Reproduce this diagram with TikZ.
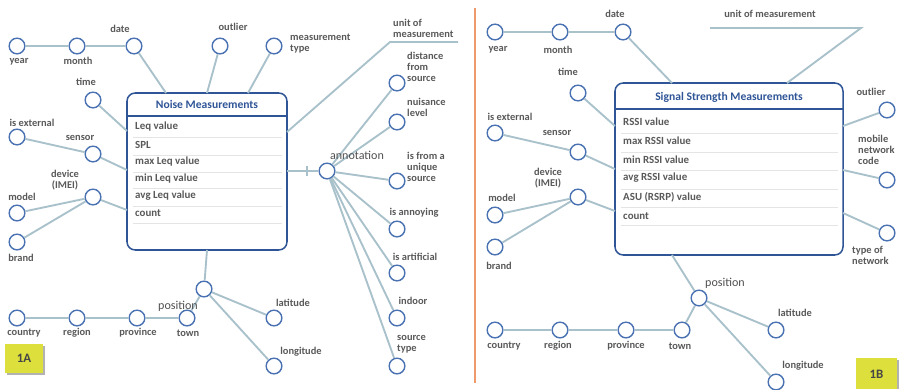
\documentclass[tikz,border=0pt]{standalone}
\usepackage{fontspec}
\setmainfont{Carlito}
\definecolor{entblue}{HTML}{4A72B2}
\definecolor{boxblue}{HTML}{2F5597}
\definecolor{lnkgray}{HTML}{A9C1CB}
\definecolor{txtgray}{HTML}{595959}
\definecolor{sepgray}{HTML}{E4E4E4}
\definecolor{tagyellow}{HTML}{DCDF3C}
\definecolor{splitorange}{HTML}{EE9A6A}
\tikzset{
  ent/.style={circle, draw=entblue, line width=1.2pt, fill=white, minimum size=0.47cm, inner sep=0pt},
  lnk/.style={draw=lnkgray, line width=1.6pt},
  lbl/.style={text=txtgray, font=\fontsize{8.9}{9.4}\selectfont\bfseries, inner sep=0pt, align=left},
  rowtxt/.style={text=txtgray, font=\fontsize{9.3}{10}\selectfont\bfseries, anchor=west, inner sep=0pt},
  ttl/.style={text=boxblue, font=\fontsize{9.9}{11}\selectfont\bfseries, inner sep=0pt},
  hub/.style={text=txtgray!90!black, font=\fontsize{10.3}{11}\selectfont, inner sep=0pt},
  mbox/.style={draw=boxblue, line width=1.3pt, fill=white, rounded corners=7pt},
  tagtxt/.style={text=txtgray!80!black, font=\fontsize{11}{12}\selectfont\bfseries, inner sep=0pt}
}
\begin{document}
\begin{tikzpicture}[x=0.03cm, y=-0.03cm]
\useasboundingbox (0,0) rectangle (902,389);

% 1A
\draw[mbox] (127,93) rectangle (287,250);
\node[ttl] (a-title) at (207,104) {Noise Measurements};
\draw[boxblue, line width=1.3pt] (127,116) -- (287,116);
\draw[sepgray, line width=0.8pt] (133,137) -- (282,137);
\draw[sepgray, line width=0.8pt] (133,155) -- (282,155);
\draw[sepgray, line width=0.8pt] (133,172) -- (282,172);
\draw[sepgray, line width=0.8pt] (133,188) -- (282,188);
\draw[sepgray, line width=0.8pt] (133,206) -- (282,206);
\draw[sepgray, line width=0.8pt] (133,223) -- (282,223);
\node[rowtxt] (a-r1) at (135,127) {Leq value};
\node[rowtxt] (a-r2) at (135,145) {SPL};
\node[rowtxt] (a-r3) at (135,162) {max Leq value};
\node[rowtxt] (a-r4) at (135,179) {min Leq value};
\node[rowtxt] (a-r5) at (135,196) {avg Leq value};
\node[rowtxt] (a-r6) at (135,213) {count};
\coordinate (a-top1) at (166,93);
\coordinate (a-top2) at (207,93);
\coordinate (a-top3) at (248,93);
\coordinate (a-left1) at (127,131);
\coordinate (a-left2) at (127,170);
\coordinate (a-left3) at (127,210);
\coordinate (a-right1) at (287,132);
\coordinate (a-right2) at (287,171);
\coordinate (a-bot) at (207,250);
\coordinate (a-bend) at (390,42);
\coordinate (a-unitend) at (458,42);
\coordinate (a-tick) at (307,171);

\node[ent] (a-year) at (17,46) {};
\node[ent] (a-month) at (77,46) {};
\node[ent] (a-date) at (134,46) {};
\node[ent] (a-outl) at (220,46) {};
\node[ent] (a-mtype) at (274,46) {};
\node[ent] (a-time) at (93,100) {};
\node[ent] (a-ext) at (17,137) {};
\node[ent] (a-sens) at (93,154) {};
\node[ent] (a-dev) at (93,197) {};
\node[ent] (a-model) at (17,213) {};
\node[ent] (a-brand) at (17,242) {};
\node[ent] (a-annot) at (327,171) {};
\node[ent] (a-dist) at (397,83) {};
\node[ent] (a-nuis) at (397,122) {};
\node[ent] (a-uniq) at (397,181) {};
\node[ent] (a-annoy) at (397,229) {};
\node[ent] (a-artif) at (397,273) {};
\node[ent] (a-indoor) at (397,318) {};
\node[ent] (a-stype) at (397,366) {};
\node[ent] (a-pos) at (204,289) {};
\node[ent] (a-lat) at (274,318) {};
\node[ent] (a-lon) at (274,366) {};
\node[ent] (a-country) at (17,318) {};
\node[ent] (a-region) at (77,318) {};
\node[ent] (a-prov) at (137,318) {};
\node[ent] (a-town) at (187,318) {};

\draw[lnk] (a-year) -- (a-month) -- (a-date) -- (a-top1);
\draw[lnk] (a-outl) -- (a-top2);
\draw[lnk] (a-mtype) -- (a-top3);
\draw[lnk] (a-time) -- (a-left1);
\draw[lnk] (a-ext) -- (a-sens) -- (a-left2);
\draw[lnk] (a-model) -- (a-dev) -- (a-left3);
\draw[lnk] (a-brand) -- (a-dev);
\draw[lnk] (a-right1) -- (a-bend) -- (a-unitend);
\draw[lnk] (a-right2) -- (a-annot);
\draw[lnk] (a-tick) ++(0,-5) -- ++(0,10);
\draw[lnk] (a-annot) -- (a-dist);
\draw[lnk] (a-annot) -- (a-nuis);
\draw[lnk] (a-annot) -- (a-uniq);
\draw[lnk] (a-annot) -- (a-annoy);
\draw[lnk] (a-annot) -- (a-artif);
\draw[lnk] (a-annot) -- (a-indoor);
\draw[lnk] (a-annot) -- (a-stype);
\draw[lnk] (a-bot) -- (a-pos);
\draw[lnk] (a-pos) -- (a-lat);
\draw[lnk] (a-pos) -- (a-lon);
\draw[lnk] (a-country) -- (a-region) -- (a-prov) -- (a-town) -- (a-pos);

\node[lbl] (a-year-t) at (19,62) {year};
\node[lbl] (a-month-t) at (78,61) {month};
\node[lbl] (a-date-t) at (120,29) {date};
\node[lbl] (a-outl-t) at (233,27) {outlier};
\node[lbl, anchor=west] (a-mtype-t) at (290,43.5) {measurement\\type};
\node[lbl] (a-time-t) at (86,82) {time};
\node[lbl] (a-ext-t) at (32,123) {is external};
\node[lbl] (a-sens-t) at (80,138) {sensor};
\node[lbl, align=center] (a-dev-t) at (65,180) {device\\(IMEI)};
\node[lbl] (a-model-t) at (22,197) {model};
\node[lbl] (a-brand-t) at (21,258) {brand};
\node[lbl, anchor=west] (a-unit-t) at (393,28) {unit of\\measurement};
\node[hub] (a-annot-t) at (357,155) {annotation};
\node[lbl, anchor=west] (a-dist-t) at (407,66.5) {distance\\from\\source};
\node[lbl, anchor=west] (a-nuis-t) at (407,107) {nuisance\\level};
\node[lbl, anchor=west] (a-uniq-t) at (407,166.5) {is from a\\unique\\source};
\node[lbl] (a-annoy-t) at (414,213) {is annoying};
\node[lbl] (a-artif-t) at (415,257) {is artificial};
\node[lbl] (a-indoor-t) at (413,301) {indoor};
\node[lbl, anchor=west] (a-stype-t) at (397,344) {source\\type};
\node[hub] (a-pos-t) at (178,306) {position};
\node[lbl] (a-lat-t) at (293,303) {latitude};
\node[lbl] (a-lon-t) at (301,352) {longitude};
\node[lbl] (a-country-t) at (24,333) {country};
\node[lbl] (a-region-t) at (77,333) {region};
\node[lbl] (a-prov-t) at (138,333) {province};
\node[lbl] (a-town-t) at (188,333) {town};

\fill[black!30] (7,346) rectangle (45,375);
\fill[tagyellow] (5,344) rectangle (43,373);
\node[tagtxt] (a-tag) at (24,358.5) {1A};

% 1B
\draw[splitorange, line width=1.6pt] (475,8) -- (475,383);

\draw[mbox] (615,83) rectangle (843,255);
\node[ttl] (b-title) at (729,97) {Signal Strength Measurements};
\draw[boxblue, line width=1.3pt] (615,109) -- (843,109);
\draw[sepgray, line width=0.8pt] (621,133) -- (838,133);
\draw[sepgray, line width=0.8pt] (621,152) -- (838,152);
\draw[sepgray, line width=0.8pt] (621,170) -- (838,170);
\draw[sepgray, line width=0.8pt] (621,189) -- (838,189);
\draw[sepgray, line width=0.8pt] (621,207) -- (838,207);
\draw[sepgray, line width=0.8pt] (621,225) -- (838,225);
\node[rowtxt] (b-r1) at (623,122) {RSSI value};
\node[rowtxt] (b-r2) at (623,141) {max RSSI value};
\node[rowtxt] (b-r3) at (623,160) {min RSSI value};
\node[rowtxt] (b-r4) at (623,178) {avg RSSI value};
\node[rowtxt] (b-r5) at (623,197) {ASU (RSRP) value};
\node[rowtxt] (b-r6) at (623,216) {count};
\coordinate (b-top1) at (672,83);
\coordinate (b-top2) at (787,83);
\coordinate (b-left1) at (615,126);
\coordinate (b-left2) at (615,169);
\coordinate (b-left3) at (615,211);
\coordinate (b-right1) at (843,126);
\coordinate (b-right2) at (843,170);
\coordinate (b-right3) at (843,213);
\coordinate (b-bot) at (672,255);
\coordinate (b-unitstart) at (710,28);
\coordinate (b-bend) at (861,28);

\node[ent] (b-year) at (495,32) {};
\node[ent] (b-month) at (560,32) {};
\node[ent] (b-date) at (623,32) {};
\node[ent] (b-time) at (578,93) {};
\node[ent] (b-ext) at (495,133) {};
\node[ent] (b-sens) at (578,152) {};
\node[ent] (b-dev) at (578,197) {};
\node[ent] (b-model) at (495,215) {};
\node[ent] (b-brand) at (495,247) {};
\node[ent] (b-outl) at (887,110) {};
\node[ent] (b-mnc) at (887,180) {};
\node[ent] (b-tnet) at (887,233) {};
\node[ent] (b-pos) at (699,298) {};
\node[ent] (b-lat) at (776,330) {};
\node[ent] (b-lon) at (776,382) {};
\node[ent] (b-country) at (495,330) {};
\node[ent] (b-region) at (560,330) {};
\node[ent] (b-prov) at (626,330) {};
\node[ent] (b-town) at (682,330) {};

\draw[lnk] (b-year) -- (b-month) -- (b-date) -- (b-top1);
\draw[lnk] (b-unitstart) -- (b-bend) -- (b-top2);
\draw[lnk] (b-time) -- (b-left1);
\draw[lnk] (b-ext) -- (b-sens) -- (b-left2);
\draw[lnk] (b-model) -- (b-dev) -- (b-left3);
\draw[lnk] (b-brand) -- (b-dev);
\draw[lnk] (b-right1) -- (b-outl);
\draw[lnk] (b-right2) -- (b-mnc);
\draw[lnk] (b-right3) -- (b-tnet);
\draw[lnk] (b-bot) -- (b-pos);
\draw[lnk] (b-pos) -- (b-lat);
\draw[lnk] (b-pos) -- (b-lon);
\draw[lnk] (b-country) -- (b-region) -- (b-prov) -- (b-town) -- (b-pos);

\node[lbl] (b-year-t) at (498,50) {year};
\node[lbl] (b-month-t) at (558,50) {month};
\node[lbl] (b-date-t) at (615,14) {date};
\node[lbl] (b-unit-t) at (770,14) {unit of measurement};
\node[lbl] (b-time-t) at (568,72) {time};
\node[lbl] (b-ext-t) at (510,117) {is external};
\node[lbl] (b-sens-t) at (557,133) {sensor};
\node[lbl, align=center] (b-dev-t) at (548,178.5) {device\\(IMEI)};
\node[lbl] (b-model-t) at (502,198) {model};
\node[lbl] (b-brand-t) at (499,266) {brand};
\node[lbl] (b-outl-t) at (871,92) {outlier};
\node[lbl, anchor=west] (b-mnc-t) at (858,150) {mobile\\network\\code};
\node[lbl, anchor=west] (b-tnet-t) at (852,255.5) {type of\\network};
\node[hub] (b-pos-t) at (725,283) {position};
\node[lbl] (b-lat-t) at (795,313) {latitude};
\node[lbl] (b-lon-t) at (803,366) {longitude};
\node[lbl] (b-country-t) at (504,346) {country};
\node[lbl] (b-region-t) at (558,346) {region};
\node[lbl] (b-prov-t) at (626,346) {province};
\node[lbl] (b-town-t) at (680,346) {town};

\fill[black!30] (858,360) rectangle (899,389);
\fill[tagyellow] (856,358) rectangle (897,389);
\node[tagtxt] (b-tag) at (876.5,374) {1B};
\end{tikzpicture}
\end{document}
